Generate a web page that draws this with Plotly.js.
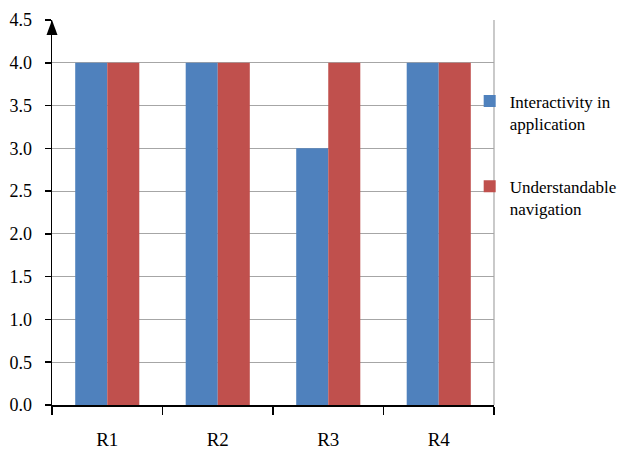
<!DOCTYPE html>
<html><head><meta charset="utf-8">
<script src="https://cdn.plot.ly/plotly-3.0.1.min.js"></script>
<style>body{margin:0;background:#fff}#c{width:634px;height:452px}</style>
</head><body><div id="c"></div>
<script>
var categories = ['R1','R2','R3','R4'];
var interactivity = [4, 4, 3, 4];
var navigation = [4, 4, 4, 4];
var seriesNames = ['Interactivity in<br>application', 'Understandable<br>navigation'];
var yTicks = [0,0.5,1,1.5,2,2.5,3,3.5,4,4.5];

var font = {family:'Liberation Serif, Times New Roman, serif', color:'#000'};
var data = [
  {type:'bar', x:categories, y:interactivity, name:seriesNames[0], legendgroup:'a',
   marker:{color:'#4F81BD', line:{width:0}}},
  {type:'bar', x:categories, y:navigation, name:seriesNames[1], legendgroup:'b',
   marker:{color:'#C0504D', line:{width:0}}}
];
var layout = {
  width:634, height:452,
  margin:{l:52, r:140, t:20, b:47},
  paper_bgcolor:'#fff', plot_bgcolor:'#fff',
  font:Object.assign({size:17}, font),
  barmode:'group', bargap:0.42, bargroupgap:0,
  xaxis:{type:'category', tickson:'boundaries', ticks:'outside', ticklen:8, tickwidth:1.5,
    tickcolor:'#000', showline:true, linecolor:'#000', linewidth:1.5, showgrid:false,
    tickfont:Object.assign({size:19}, font), ticklabelstandoff:17, fixedrange:true},
  yaxis:{range:[0,4.5], tickvals:yTicks, tickformat:'.1f', ticks:'outside', ticklen:6,
    tickwidth:1.5, tickcolor:'#000', showline:true, linecolor:'#000', linewidth:1.5,
    showgrid:true, gridcolor:'#a6a6a6', gridwidth:1.2, zeroline:false,
    tickfont:Object.assign({size:18}, font), ticklabelstandoff:9, fixedrange:true},
  showlegend:true,
  legend:{x:0.945, xanchor:'left', y:0.835, yanchor:'top', traceorder:'grouped',
    tracegroupgap:38, valign:'top', font:Object.assign({size:17}, font), itemwidth:30,
    bgcolor:'rgba(0,0,0,0)'},
  shapes:[
    {type:'line', xref:'paper', yref:'paper', x0:1, x1:1, y0:0, y1:1,
     line:{color:'#a6a6a6', width:1.2}},
    {type:'path', xref:'paper', yref:'y', xsizemode:'pixel', ysizemode:'pixel',
     xanchor:0, yanchor:4.5, path:'M0,0 L-5.5,-15 L5.5,-15 Z',
     fillcolor:'#000', line:{width:0}}
  ]
};
Plotly.newPlot('c', data, layout, {displayModeBar:false, staticPlot:true});
</script></body></html>
